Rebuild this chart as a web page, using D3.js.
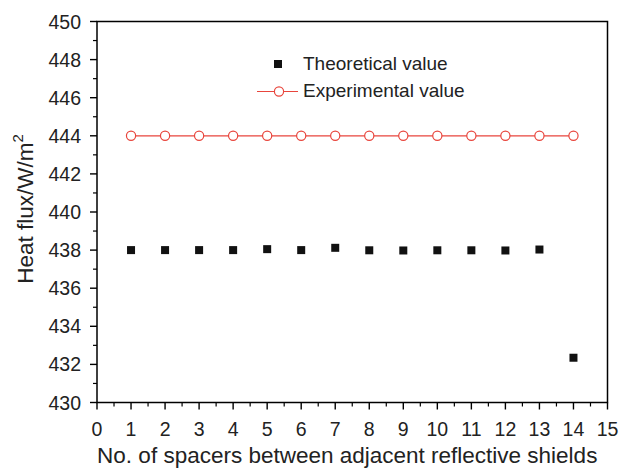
<!DOCTYPE html>
<html>
<head>
<meta charset="utf-8">
<script src="https://cdn.jsdelivr.net/npm/d3@7"></script>
<style>
  body { margin: 0; background: #fff; }
  svg text { font-family: "Liberation Sans", Arial, sans-serif; fill: #222; }
</style>
</head>
<body>
<div id="chart"></div>
<script>
// spacer counts and measured heat flux
var spacers = [1, 2, 3, 4, 5, 6, 7, 8, 9, 10, 11, 12, 13, 14];
var theoretical = [438.0, 438.0, 438.0, 438.0, 438.05, 438.0, 438.12, 437.99, 437.98, 437.99, 437.99, 437.98, 438.03, 432.35];
var experimental = [444, 444, 444, 444, 444, 444, 444, 444, 444, 444, 444, 444, 444, 444];
var xTicks = [0, 1, 2, 3, 4, 5, 6, 7, 8, 9, 10, 11, 12, 13, 14, 15];
var yTicks = [430, 432, 434, 436, 438, 440, 442, 444, 446, 448, 450];
var legendLabels = ['Theoretical value', 'Experimental value'];

var width = 621, height = 469;
var plotLeft = 97, plotRight = 607.5, plotTop = 21.5, plotBottom = 402.5;
var red = '#e8453c';
var tickFont = '19.5px';

var svg = d3.select('#chart').append('svg')
    .attr('width', width)
    .attr('height', height);

var x = d3.scaleLinear().domain([0, 15]).range([plotLeft, plotRight]);
var y = d3.scaleLinear().domain([430, 450]).range([plotBottom, plotTop]);

// frame
svg.append('rect')
    .attr('x', plotLeft).attr('y', plotTop)
    .attr('width', plotRight - plotLeft).attr('height', plotBottom - plotTop)
    .attr('fill', 'none').attr('stroke', '#000').attr('stroke-width', 1.5);

// minor ticks
var minorX = d3.range(0.5, 15, 1);
var minorY = d3.range(431, 450, 2);

var xAxis = svg.append('g').attr('transform', 'translate(0,' + plotBottom + ')');
xAxis.selectAll('line.minor').data(minorX).enter().append('line')
    .attr('x1', function(d) { return x(d); }).attr('x2', function(d) { return x(d); })
    .attr('y1', 0).attr('y2', 4)
    .attr('stroke', '#000').attr('stroke-width', 1.2);
xAxis.selectAll('line.major').data(xTicks).enter().append('line')
    .attr('x1', function(d) { return x(d); }).attr('x2', function(d) { return x(d); })
    .attr('y1', 0).attr('y2', 7)
    .attr('stroke', '#000').attr('stroke-width', 1.4);
xAxis.selectAll('text').data(xTicks).enter().append('text')
    .attr('x', function(d) { return x(d); })
    .attr('y', 33.5)
    .attr('text-anchor', 'middle')
    .style('font-size', tickFont)
    .text(function(d) { return d; });

var yAxis = svg.append('g').attr('transform', 'translate(' + plotLeft + ',0)');
yAxis.selectAll('line.minor').data(minorY).enter().append('line')
    .attr('x1', 0).attr('x2', -4)
    .attr('y1', function(d) { return y(d); }).attr('y2', function(d) { return y(d); })
    .attr('stroke', '#000').attr('stroke-width', 1.2);
yAxis.selectAll('line.major').data(yTicks).enter().append('line')
    .attr('x1', 0).attr('x2', -7)
    .attr('y1', function(d) { return y(d); }).attr('y2', function(d) { return y(d); })
    .attr('stroke', '#000').attr('stroke-width', 1.4);
yAxis.selectAll('text').data(yTicks).enter().append('text')
    .attr('x', -16)
    .attr('y', function(d) { return y(d) + 7; })
    .attr('text-anchor', 'end')
    .style('font-size', tickFont)
    .text(function(d) { return d; });

// axis titles
svg.append('text')
    .attr('x', (plotLeft + plotRight) / 2 - 5)
    .attr('y', 463)
    .attr('text-anchor', 'middle')
    .style('font-size', '22.5px')
    .text('No. of spacers between adjacent reflective shields');

var yTitle = svg.append('text')
    .attr('transform', 'translate(33,209) rotate(-90)')
    .attr('text-anchor', 'middle')
    .style('font-size', '22.5px');
yTitle.append('tspan').text('Heat flux/W/m');
yTitle.append('tspan').attr('dy', -10).style('font-size', '15px').text('2');

// experimental series
var line = d3.line()
    .x(function(d, i) { return x(spacers[i]); })
    .y(function(d) { return y(d); });

svg.append('path').datum(experimental)
    .attr('fill', 'none')
    .attr('stroke', red)
    .attr('stroke-width', 1.2)
    .attr('d', line);

svg.selectAll('circle.exp').data(experimental).enter().append('circle')
    .attr('cx', function(d, i) { return x(spacers[i]); })
    .attr('cy', function(d) { return y(d); })
    .attr('r', 4.6)
    .attr('fill', '#fff')
    .attr('stroke', red)
    .attr('stroke-width', 1.2);

// theoretical series
var sq = 8;
svg.selectAll('rect.theo').data(theoretical).enter().append('rect')
    .attr('x', function(d, i) { return x(spacers[i]) - sq / 2; })
    .attr('y', function(d) { return y(d) - sq / 2; })
    .attr('width', sq).attr('height', sq)
    .attr('fill', '#111');

// legend
var lg = svg.append('g');
lg.append('rect')
    .attr('x', 278 - sq / 2).attr('y', 64 - sq / 2)
    .attr('width', sq).attr('height', sq)
    .attr('fill', '#111');
lg.append('text')
    .attr('x', 303).attr('y', 69.5)
    .style('font-size', '19px')
    .text(legendLabels[0]);
lg.append('line')
    .attr('x1', 257).attr('x2', 298)
    .attr('y1', 91.5).attr('y2', 91.5)
    .attr('stroke', red).attr('stroke-width', 1.2);
lg.append('circle')
    .attr('cx', 279).attr('cy', 91.5).attr('r', 4.6)
    .attr('fill', '#fff').attr('stroke', red).attr('stroke-width', 1.2);
lg.append('text')
    .attr('x', 303).attr('y', 96.5)
    .style('font-size', '19px')
    .text(legendLabels[1]);
</script>
</body>
</html>
